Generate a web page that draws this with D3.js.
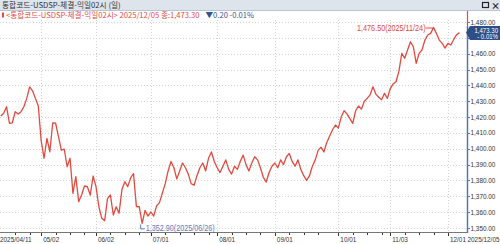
<!DOCTYPE html>
<html>
<head>
<meta charset="utf-8">
<script src="https://cdn.jsdelivr.net/npm/d3@7"></script>
<style>
  body { margin: 0; background: #fff; }
  svg { display: block; font-family: "Noto Sans CJK KR", "Noto Sans", sans-serif; }
  .num { font-family: "Liberation Sans", Arial, sans-serif; }
</style>
</head>
<body>
<script>
// daily close, 2025/04/11 .. 2025/12/05 (trading days)
const closes = [
  1420.7, 1422.4, 1426.5, 1416.1, 1416.4, 1423.4, 1421.9, 1423.4, 1426.5, 1431.8,
  1439.1, 1436.6, 1431.8, 1427.0, 1405.0, 1394.0, 1406.6, 1398.1, 1416.4, 1416.1,
  1407.6, 1399.2, 1399.7, 1388.7, 1394.0, 1371.9, 1382.4, 1366.6, 1370.8, 1376.5,
  1376.1, 1370.8, 1382.8, 1376.1, 1363.4, 1356.1, 1354.6, 1368.7, 1370.8, 1358.2,
  1363.4, 1359.3, 1374.5, 1379.2, 1376.1, 1381.6, 1384.4, 1363.5, 1363.4, 1352.9,
  1361.1, 1357.5, 1360.1, 1357.5, 1364.0, 1366.0, 1372.0, 1378.0, 1386.0, 1392.0,
  1388.0, 1381.0, 1386.0, 1391.0, 1388.0, 1384.0, 1378.0, 1377.0, 1383.0, 1388.0,
  1391.0, 1386.0, 1394.0, 1398.0, 1392.0, 1388.0, 1385.0, 1389.0, 1393.0, 1387.0,
  1384.0, 1389.0, 1387.0, 1392.0, 1396.0, 1390.0, 1386.0, 1391.0, 1395.0, 1393.0,
  1388.0, 1382.0, 1379.0, 1385.0, 1389.0, 1391.0, 1388.0, 1393.0, 1390.0, 1395.0,
  1397.0, 1392.0, 1389.0, 1393.0, 1387.0, 1383.0, 1380.0, 1383.0, 1389.0, 1393.0,
  1399.0, 1401.0, 1398.0, 1404.0, 1408.0, 1412.0, 1415.0, 1413.0, 1420.0, 1424.0,
  1422.0, 1419.0, 1416.0, 1424.0, 1427.0, 1425.0, 1430.0, 1431.8, 1434.0, 1439.1,
  1434.5, 1432.5, 1431.0, 1435.0, 1431.8, 1438.0, 1440.9, 1442.3, 1449.0, 1460.2,
  1457.1, 1462.3, 1467.5, 1464.4, 1453.9, 1460.2, 1462.3, 1468.6, 1471.8, 1472.8,
  1476.5, 1472.8, 1468.6, 1466.5, 1463.5, 1466.5, 1465.5, 1469.0, 1472.0, 1473.3
];
const dateLabels = ["2025/04/11", "05/02", "06/02", "07/01", "08/01", "09/01", "10/01", "11/03", "12/01", "2025/12/05"];
const dateLabelIdx = [0, 14, 33, 52, 75, 95, 117, 135, 155, 159];
const yTicks = [1350, 1360, 1370, 1380, 1390, 1400, 1410, 1420, 1430, 1440, 1450, 1460, 1470, 1480];

const titleText = "통합코드-USDSP-체결-익일02시 (일)";
const legendText = "<통합코드-USDSP-체결-익일02시> 2025/12/05 종:1,473.30";
const changeText = "▼0.20  -0.01%";
const maxIdx = 150, minIdx = 49;

const W = 500, H = 244;
const axisX = 467, axisY = 232;
const red = "#e24a3f", blue = "#33538f";

const svg = d3.select("body").append("svg")
    .attr("width", W)
    .attr("height", H);

const x = d3.scaleLinear().domain([0, closes.length - 1]).range([0.8, 459.5]);
const y = d3.scaleLinear().domain([1350, 1480]).range([228, 22]);
const fmt = d3.format(",.2f");

// squeeze a text horizontally, like the terminal's condensed font
function squeeze(sel, k) {
  sel.each(function() {
    const t = d3.select(this);
    const x0 = +t.attr("x"), y0 = +t.attr("y");
    t.attr("x", 0).attr("y", 0)
     .attr("transform", `translate(${x0},${y0}) scale(${k},1)`);
  });
}

const last = closes[closes.length - 1];
const ly = y(last);
const boxTop = ly - 6.5, boxBottom = ly + 7.5;

// header bar
svg.append("rect").attr("x", 0).attr("y", 0).attr("width", W).attr("height", 10)
    .attr("fill", "#dde4ec");
svg.append("line").attr("x1", 0).attr("x2", W).attr("y1", 10.5).attr("y2", 10.5)
    .attr("stroke", "#b9c4d2");
svg.append("text").attr("x", 2).attr("y", 7.8)
    .attr("font-size", 7.7).attr("fill", "#333")
    .text(titleText);
// window icons
svg.append("rect").attr("x", 482.5).attr("y", 2.5).attr("width", 6).attr("height", 5)
    .attr("fill", "none").attr("stroke", "#223").attr("stroke-width", 1.2);
svg.append("text").attr("x", 491).attr("y", 8.5).attr("font-size", 9).attr("font-weight", "bold")
    .attr("fill", "#223").text("×");

// legend row
svg.append("rect").attr("x", 2).attr("y", 12.5).attr("width", 2).attr("height", 5).attr("fill", red);
const leg = svg.append("text").attr("x", 6).attr("y", 18).attr("font-size", 7.6);
leg.append("tspan").attr("fill", red).text(legendText);
leg.append("tspan").attr("fill", blue).attr("dx", 6).text(changeText);

// grid
svg.append("g").selectAll("line")
    .data(yTicks)
    .join("line")
    .attr("x1", 0).attr("x2", axisX)
    .attr("y1", d => Math.round(y(d)) + 0.5).attr("y2", d => Math.round(y(d)) + 0.5)
    .attr("stroke", "#d4d4d4").attr("stroke-dasharray", "1,2");
svg.append("g").selectAll("line")
    .data(dateLabelIdx.slice(1, -1))
    .join("line")
    .attr("x1", d => Math.round(x(d)) + 0.5).attr("x2", d => Math.round(x(d)) + 0.5)
    .attr("y1", 20).attr("y2", axisY)
    .attr("stroke", "#d4d4d4").attr("stroke-dasharray", "1,2");

// x axis
svg.append("line").attr("x1", 0).attr("x2", axisX).attr("y1", axisY + 0.5).attr("y2", axisY + 0.5)
    .attr("stroke", "#777");
const minor = [];
for (let k = 0; k < dateLabelIdx.length - 2; k++) {
  for (let i = dateLabelIdx[k] + 5; i < dateLabelIdx[k + 1] - 2; i += 5) minor.push(i);
}
svg.append("g").selectAll("line")
    .data(minor)
    .join("line")
    .attr("x1", d => Math.round(x(d)) + 0.5).attr("x2", d => Math.round(x(d)) + 0.5)
    .attr("y1", axisY + 1).attr("y2", axisY + 3)
    .attr("stroke", "#333");
svg.append("g").selectAll("line")
    .data(dateLabelIdx.slice(1, -1))
    .join("line")
    .attr("x1", d => Math.round(x(d)) + 0.5).attr("x2", d => Math.round(x(d)) + 0.5)
    .attr("y1", axisY + 1).attr("y2", axisY + 4)
    .attr("stroke", "#333");
svg.append("g").selectAll("text")
    .data(dateLabels)
    .join("text")
    .attr("class", "num")
    .attr("x", (d, i) => i === 0 ? 0 : i === dateLabels.length - 1 ? W - 0.5 : x(dateLabelIdx[i]) + 2)
    .attr("y", 242)
    .attr("text-anchor", (d, i) => i === dateLabels.length - 1 ? "end" : "start")
    .attr("font-size", 8).attr("fill", "#333")
    .text(d => d)
    .call(squeeze, 0.8);

// y axis
svg.append("line").attr("x1", axisX + 0.5).attr("x2", axisX + 0.5).attr("y1", 26).attr("y2", axisY + 1)
    .attr("stroke", "#5877a8").attr("stroke-width", 1.5);
svg.append("line").attr("x1", axisX + 0.5).attr("x2", axisX + 0.5).attr("y1", 11).attr("y2", 26)
    .attr("stroke", red).attr("stroke-width", 1.2);
svg.append("g").selectAll("line")
    .data(yTicks)
    .join("line")
    .attr("x1", axisX + 1).attr("x2", axisX + 3)
    .attr("y1", d => Math.round(y(d)) + 0.5).attr("y2", d => Math.round(y(d)) + 0.5)
    .attr("stroke", "#5877a8");
// the label hidden under the last-value box is not drawn
svg.append("g").selectAll("text")
    .data(yTicks.filter(d => y(d) + 3 < boxTop || y(d) - 3 > boxBottom))
    .join("text")
    .attr("class", "num")
    .attr("x", axisX + 3.5)
    .attr("y", d => y(d) + 2.5)
    .attr("font-size", 8).attr("fill", "#333")
    .text(d => fmt(d))
    .call(squeeze, 0.8);

// price line
svg.append("path")
    .datum(closes)
    .attr("fill", "none")
    .attr("stroke", red)
    .attr("stroke-width", 1.3)
    .attr("stroke-linejoin", "round")
    .attr("d", d3.line().x((d, i) => x(i)).y(d => y(d)));

// max annotation
const mx = x(maxIdx), my = y(closes[maxIdx]);
svg.append("line").attr("x1", mx - 8).attr("x2", mx).attr("y1", my + 0.5).attr("y2", my + 0.5)
    .attr("stroke", red);
svg.append("text").attr("class", "num").attr("x", mx - 8).attr("y", my + 3)
    .attr("text-anchor", "end").attr("font-size", 8.5).attr("fill", red)
    .text(`${fmt(closes[maxIdx])}(2025/11/24)`)
    .call(squeeze, 0.85);

// min annotation
const nx = x(minIdx), ny = y(closes[minIdx]);
svg.append("path")
    .attr("d", `M${nx - 1.5},${ny + 1}V${ny + 5.5}H${nx + 2.5}`)
    .attr("fill", "none").attr("stroke", "#5a7cc0");
svg.append("text").attr("class", "num").attr("x", nx + 3.5).attr("y", ny + 8)
    .attr("font-size", 8.5).attr("fill", "#5a7cc0")
    .text(`${fmt(closes[minIdx])}(2025/06/26)`)
    .call(squeeze, 0.85);

// last value box
svg.append("path")
    .attr("d", `M${axisX - 1},${ly} L${axisX + 3},${boxTop} H${W} V${boxBottom} H${axisX + 3} Z`)
    .attr("fill", "#2e4f86");
svg.append("text").attr("class", "num").attr("x", 498).attr("y", ly + 0.3)
    .attr("text-anchor", "end").attr("font-size", 7.4).attr("fill", "#fff")
    .text(fmt(last))
    .call(squeeze, 0.82);
svg.append("text").attr("class", "num").attr("x", 498).attr("y", ly + 6.8)
    .attr("text-anchor", "end").attr("font-size", 7.4).attr("fill", "#fff")
    .text("- 0.01%")
    .call(squeeze, 0.82);
</script>
</body>
</html>
